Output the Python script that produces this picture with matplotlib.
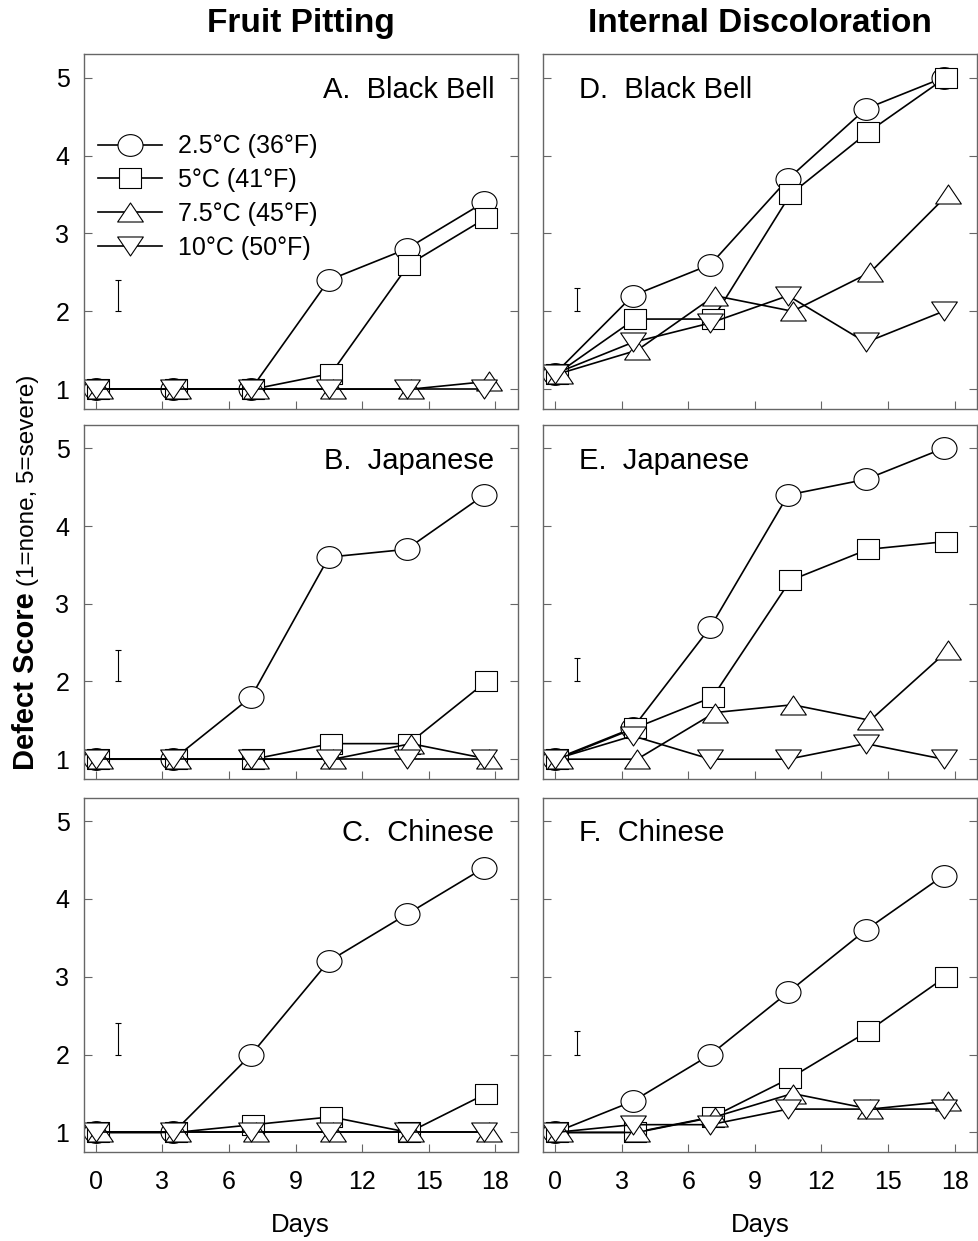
import matplotlib
matplotlib.use("Agg")
import matplotlib.pyplot as plt
from matplotlib.path import Path
from matplotlib.transforms import Affine2D

plt.rcParams['font.family'] = ['Liberation Sans', 'DejaVu Sans']

# ---------------- data ----------------
days = [0, 3.5, 7, 10.5, 14, 17.5]
temp_labels = ["2.5°C (36°F)", "5°C (41°F)", "7.5°C (45°F)", "10°C (50°F)"]
x_ticks = [0, 3, 6, 9, 12, 15, 18]
y_ticks = [1, 2, 3, 4, 5]

# Fruit pitting: rows = 2.5, 5, 7.5, 10 °C
pit_black_bell = [
    [1.0, 1.0, 1.0, 2.4, 2.8, 3.4],
    [1.0, 1.0, 1.0, 1.2, 2.6, 3.2],
    [1.0, 1.0, 1.0, 1.0, 1.0, 1.1],
    [1.0, 1.0, 1.0, 1.0, 1.0, 1.0],
]
pit_japanese = [
    [1.0, 1.0, 1.8, 3.6, 3.7, 4.4],
    [1.0, 1.0, 1.0, 1.2, 1.2, 2.0],
    [1.0, 1.0, 1.0, 1.0, 1.2, 1.0],
    [1.0, 1.0, 1.0, 1.0, 1.0, 1.0],
]
pit_chinese = [
    [1.0, 1.0, 2.0, 3.2, 3.8, 4.4],
    [1.0, 1.0, 1.1, 1.2, 1.0, 1.5],
    [1.0, 1.0, 1.0, 1.0, 1.0, 1.0],
    [1.0, 1.0, 1.0, 1.0, 1.0, 1.0],
]

# Internal discoloration
disc_black_bell = [
    [1.2, 2.2, 2.6, 3.7, 4.6, 5.0],
    [1.2, 1.9, 1.9, 3.5, 4.3, 5.0],
    [1.2, 1.5, 2.2, 2.0, 2.5, 3.5],
    [1.2, 1.6, 1.85, 2.2, 1.6, 2.0],
]
disc_japanese = [
    [1.0, 1.4, 2.7, 4.4, 4.6, 5.0],
    [1.0, 1.4, 1.8, 3.3, 3.7, 3.8],
    [1.0, 1.0, 1.6, 1.7, 1.5, 2.4],
    [1.0, 1.3, 1.0, 1.0, 1.2, 1.0],
]
disc_chinese = [
    [1.0, 1.4, 2.0, 2.8, 3.6, 4.3],
    [1.0, 1.0, 1.2, 1.7, 2.3, 3.0],
    [1.0, 1.0, 1.2, 1.5, 1.3, 1.4],
    [1.0, 1.1, 1.1, 1.3, 1.3, 1.3],
]

lsd_pitting = 0.4
lsd_discolor = 0.3
lsd_day = 1.0
lsd_base = 2.0

left_labels = ["A.  Black Bell", "B.  Japanese", "C.  Chinese"]
right_labels = ["D.  Black Bell", "E.  Japanese", "F.  Chinese"]
col_titles = ["Fruit Pitting", "Internal Discoloration"]

# ---------------- styling ----------------
W, H = 979, 1241
fig = plt.figure(figsize=(W / 100, H / 100), dpi=100)

circle_path = Path.unit_circle().transformed(Affine2D().scale(1.0, 0.87))
square_path = Path([(-1, -0.9), (1, -0.9), (1, 0.9), (-1, 0.9), (-1, -0.9)], closed=True)
tri_up = Path([(-1, -0.74), (1, -0.74), (0, 0.74), (-1, -0.74)], closed=True)
tri_dn = Path([(-1, 0.74), (1, 0.74), (0, -0.74), (-1, 0.74)], closed=True)
markers = [circle_path, square_path, tri_up, tri_dn]
msizes = [18, 16, 18.5, 18.5]
x_offsets = [0.0, 0.1, 0.2, 0.0]

spine_col = '#666666'

col_lefts = [84 / W, 543.3 / W]
col_width = 433.5 / W
row_px = [(54.3, 409.0), (425.0, 779.0), (797.7, 1152.3)]

panels = [[pit_black_bell, disc_black_bell],
          [pit_japanese, disc_japanese],
          [pit_chinese, disc_chinese]]
lsds = [lsd_pitting, lsd_discolor]
labels = [left_labels, right_labels]

for r in range(3):
    top, bot = row_px[r]
    for c in range(2):
        ax = fig.add_axes([col_lefts[c], 1 - bot / H, col_width, (bot - top) / H])
        data = panels[r][c]
        for i, vals in enumerate(data):
            xs = [d + x_offsets[i] for d in days]
            ax.plot(xs, vals, color='black', lw=1.2, marker=markers[i],
                    markersize=msizes[i], markerfacecolor='white',
                    markeredgecolor='black', markeredgewidth=0.8,
                    label=temp_labels[i])
        lsd = lsds[c]
        ax.errorbar([lsd_day], [lsd_base + lsd / 2], yerr=[lsd / 2], fmt='none',
                    ecolor='black', elinewidth=0.8, capsize=2.5, capthick=0.8)
        ax.set_xlim(-0.53, 19.0)
        ax.set_ylim(0.745, 5.3)
        ax.set_xticks(x_ticks)
        ax.set_yticks(y_ticks)
        ax.tick_params(direction='in', length=5.5, width=0.8, color=spine_col,
                       left=True, right=True, top=False, bottom=True,
                       labelsize=18, labelcolor='black')
        ax.tick_params(axis='y', pad=10.5)
        ax.tick_params(axis='x', pad=13)
        for s in ax.spines.values():
            s.set_color(spine_col)
            s.set_linewidth(1.0)
        if c == 1:
            ax.set_yticklabels([])
        if r < 2:
            ax.set_xticklabels([])
        if c == 0:
            ax.text(17.95, 4.74, labels[c][r], ha='right', va='baseline', fontsize=21)
        else:
            ax.text(1.1, 4.74, labels[c][r], ha='left', va='baseline', fontsize=21)
        if r == 0 and c == 0:
            ax.legend(loc='upper left', bbox_to_anchor=(0.032, 0.774), frameon=False,
                      fontsize=18, handlelength=2.55, handletextpad=0.64,
                      labelspacing=0.39, borderpad=0, borderaxespad=0, numpoints=1)
        if r == 2:
            cx = col_lefts[c] + col_width / 2
            fig.text(cx, 1 - 1232 / H, "Days", ha='center', va='baseline', fontsize=18.5)

# column titles
for c in range(2):
    cx = col_lefts[c] + col_width / 2
    fig.text(cx, 1 - 31.7 / H, col_titles[c], ha='center', va='baseline',
             fontsize=24, fontweight='bold')

# y label composed of bold and regular parts
renderer = fig.canvas.get_renderer()
t1 = fig.text(34 / W, 1 - 770 / H, "Defect Score", rotation=90, rotation_mode='anchor',
              ha='left', va='baseline', fontsize=21, fontweight='bold')
bb = t1.get_window_extent(renderer=renderer)
fig.text(34 / W, (bb.y1 + 6) / fig.bbox.height, "(1=none, 5=severe)", rotation=90,
         rotation_mode='anchor', ha='left', va='baseline', fontsize=17.5)

fig.savefig("out.png", dpi=100)
